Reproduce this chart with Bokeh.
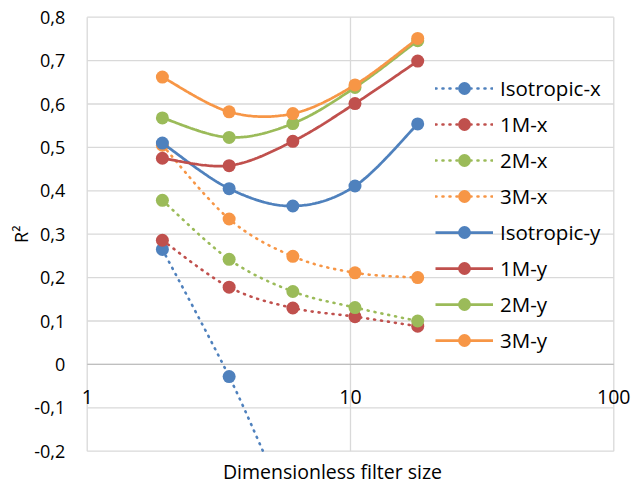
import numpy as np
from bokeh.plotting import figure
from bokeh.models import Range1d, Label, Legend, LegendItem
from bokeh.embed import file_html
from bokeh.resources import INLINE

# Filter sizes (dimensionless) and R^2 for each model / direction
filter_size = [1.93, 3.46, 6.04, 10.4, 18.0]

iso_x = [0.265, -0.028, -0.34, -0.52, -0.63]
m1_x = [0.286, 0.178, 0.130, 0.110, 0.088]
m2_x = [0.378, 0.242, 0.168, 0.131, 0.100]
m3_x = [0.505, 0.335, 0.249, 0.211, 0.200]
iso_y = [0.510, 0.405, 0.365, 0.411, 0.554]
m1_y = [0.475, 0.458, 0.514, 0.601, 0.699]
m2_y = [0.568, 0.523, 0.555, 0.638, 0.746]
m3_y = [0.662, 0.582, 0.578, 0.644, 0.751]

series_names = ["Isotropic-x", "1M-x", "2M-x", "3M-x",
                "Isotropic-y", "1M-y", "2M-y", "3M-y"]
series_values = [iso_x, m1_x, m2_x, m3_x, iso_y, m1_y, m2_y, m3_y]
series_colors = ["#4f81bd", "#c0504d", "#9bbb59", "#f79646"] * 2

y_ticks = [-0.2, -0.1, 0.0, 0.1, 0.2, 0.3, 0.4, 0.5, 0.6, 0.7, 0.8]
y_tick_labels = ["-0,2", "-0,1", "0", "0,1", "0,2", "0,3", "0,4",
                 "0,5", "0,6", "0,7", "0,8"]
x_tick_values = [1, 10, 100]
x_tick_labels = ["1", "10", "100"]

FONT = "Open Sans"
TEXT_COLOR = "#000000"
GRID = "#d9d9d9"

# Page size and placement of the plotting area inside it (pixels)
W, H = 634, 490
AREA_L, AREA_R, AREA_T, AREA_B = 86.7, 613.3, 16.7, 450.7

x_lo, x_hi = np.log10(x_tick_values[0]), np.log10(x_tick_values[-1])
y_lo, y_hi = y_ticks[0], y_ticks[-1]
px_per_dec = (AREA_R - AREA_L) / (x_hi - x_lo)
px_per_unit = (AREA_B - AREA_T) / (y_hi - y_lo)

# The frame fills the page; ranges are widened so the axes area sits inside
x_range = Range1d(10 ** (x_lo - AREA_L / px_per_dec),
                  10 ** (x_hi + (W - AREA_R) / px_per_dec))
y_range = Range1d(y_lo - (H - AREA_B) / px_per_unit,
                  y_hi + AREA_T / px_per_unit)

p = figure(width=W, height=H, x_axis_type="log",
           x_range=x_range, y_range=y_range,
           output_backend="svg", toolbar_location=None,
           min_border=0)
p.axis.visible = False
p.grid.visible = False
p.outline_line_color = None
p.background_fill_color = "white"
p.border_fill_color = "white"

# Gridlines and plot-area border
p.segment(x0=[x_tick_values[0]] * len(y_ticks), x1=[x_tick_values[-1]] * len(y_ticks),
          y0=y_ticks, y1=y_ticks, line_color=GRID, line_width=1.3)
p.segment(x0=x_tick_values, x1=x_tick_values,
          y0=[y_lo] * len(x_tick_values), y1=[y_hi] * len(x_tick_values),
          line_color=GRID, line_width=1.3)
# Horizontal axis line at y = 0
p.segment(x0=[x_tick_values[0]], x1=[x_tick_values[-1]], y0=[0], y1=[0],
          line_color="#bfbfbf", line_width=1.3)


def smooth(xs, ys, n=40):
    """Bezier smoothing through the points, done in screen space."""
    u = np.log10(np.asarray(xs, float)) * px_per_dec
    v = np.asarray(ys, float) * px_per_unit
    P = np.column_stack([u, v])
    t = np.linspace(0.0, 1.0, n)[:, None]
    out = [P[:1]]
    for i in range(len(P) - 1):
        prev = P[i - 1] if i > 0 else P[i]
        nxt = P[i + 2] if i + 2 < len(P) else P[i + 1]
        c1 = P[i] + (P[i + 1] - prev) / 6.0
        c2 = P[i + 1] - (nxt - P[i]) / 6.0
        seg = ((1 - t) ** 3) * P[i] + 3 * ((1 - t) ** 2) * t * c1 \
            + 3 * (1 - t) * (t ** 2) * c2 + (t ** 3) * P[i + 1]
        out.append(seg[1:])
    S = np.vstack(out)
    return S[:, 0] / px_per_dec, S[:, 1] / px_per_unit


def clip_below(lx, ys, floor):
    """Cut a curve where it leaves the plot area through the bottom."""
    keep_x, keep_y = [lx[0]], [ys[0]]
    for i in range(1, len(ys)):
        if ys[i] >= floor:
            keep_x.append(lx[i])
            keep_y.append(ys[i])
        else:
            f = (ys[i - 1] - floor) / (ys[i - 1] - ys[i])
            keep_x.append(lx[i - 1] + f * (lx[i] - lx[i - 1]))
            keep_y.append(floor)
            break
    return np.array(keep_x), np.array(keep_y)


items = []
for name, vals, col in zip(series_names, series_values, series_colors):
    lx, ly = smooth(filter_size, vals)
    lx, ly = clip_below(lx, ly, y_lo)
    if name.endswith("-x"):
        lr = p.line(10 ** lx, ly, line_color=col, line_width=2.6,
                    line_dash="1 6", line_cap="round")
    else:
        lr = p.line(10 ** lx, ly, line_color=col, line_width=2.75)
    shown = [(fx, v) for fx, v in zip(filter_size, vals) if v >= y_lo]
    sr = p.scatter([s[0] for s in shown], [s[1] for s in shown], size=13,
                   fill_color=col, line_color=col, line_width=0)
    items.append(LegendItem(label=name, renderers=[lr, sr]))

legend = Legend(items=items, location=(435, 134),
                background_fill_alpha=0, border_line_alpha=0,
                padding=0, margin=0, spacing=4, glyph_width=58,
                glyph_height=32, label_height=32, label_standoff=7,
                label_text_font=FONT, label_text_font_size="20.5px",
                label_text_color=TEXT_COLOR)
p.add_layout(legend, "center")

# Y tick labels
for yv, lab in zip(y_ticks, y_tick_labels):
    p.add_layout(Label(x=x_tick_values[0], y=yv, text=lab, x_offset=-22,
                       text_align="right", text_baseline="middle",
                       text_font=FONT, text_font_size="18px",
                       text_color=TEXT_COLOR))

# Y axis title
p.add_layout(Label(x=x_tick_values[0], y=(y_lo + y_hi) / 2, text="R²",
                   x_offset=-66, angle=np.pi / 2, text_align="center",
                   text_baseline="middle", text_font=FONT,
                   text_font_size="18px", text_color=TEXT_COLOR))

# X tick labels sit under the y = 0 line
for xv, lab in zip(x_tick_values, x_tick_labels):
    p.add_layout(Label(x=xv, y=0, text=lab, y_offset=-33,
                       text_align="center", text_baseline="middle",
                       text_font=FONT, text_font_size="19.5px",
                       text_color=TEXT_COLOR))

# X axis title
p.add_layout(Label(x=x_tick_values[1], y=y_lo, text="Dimensionless filter size",
                   x_offset=-18, y_offset=-20, text_align="center",
                   text_baseline="middle", text_font=FONT,
                   text_font_size="19.5px", text_color=TEXT_COLOR))

open("out.html", "w").write(file_html(p, INLINE))
